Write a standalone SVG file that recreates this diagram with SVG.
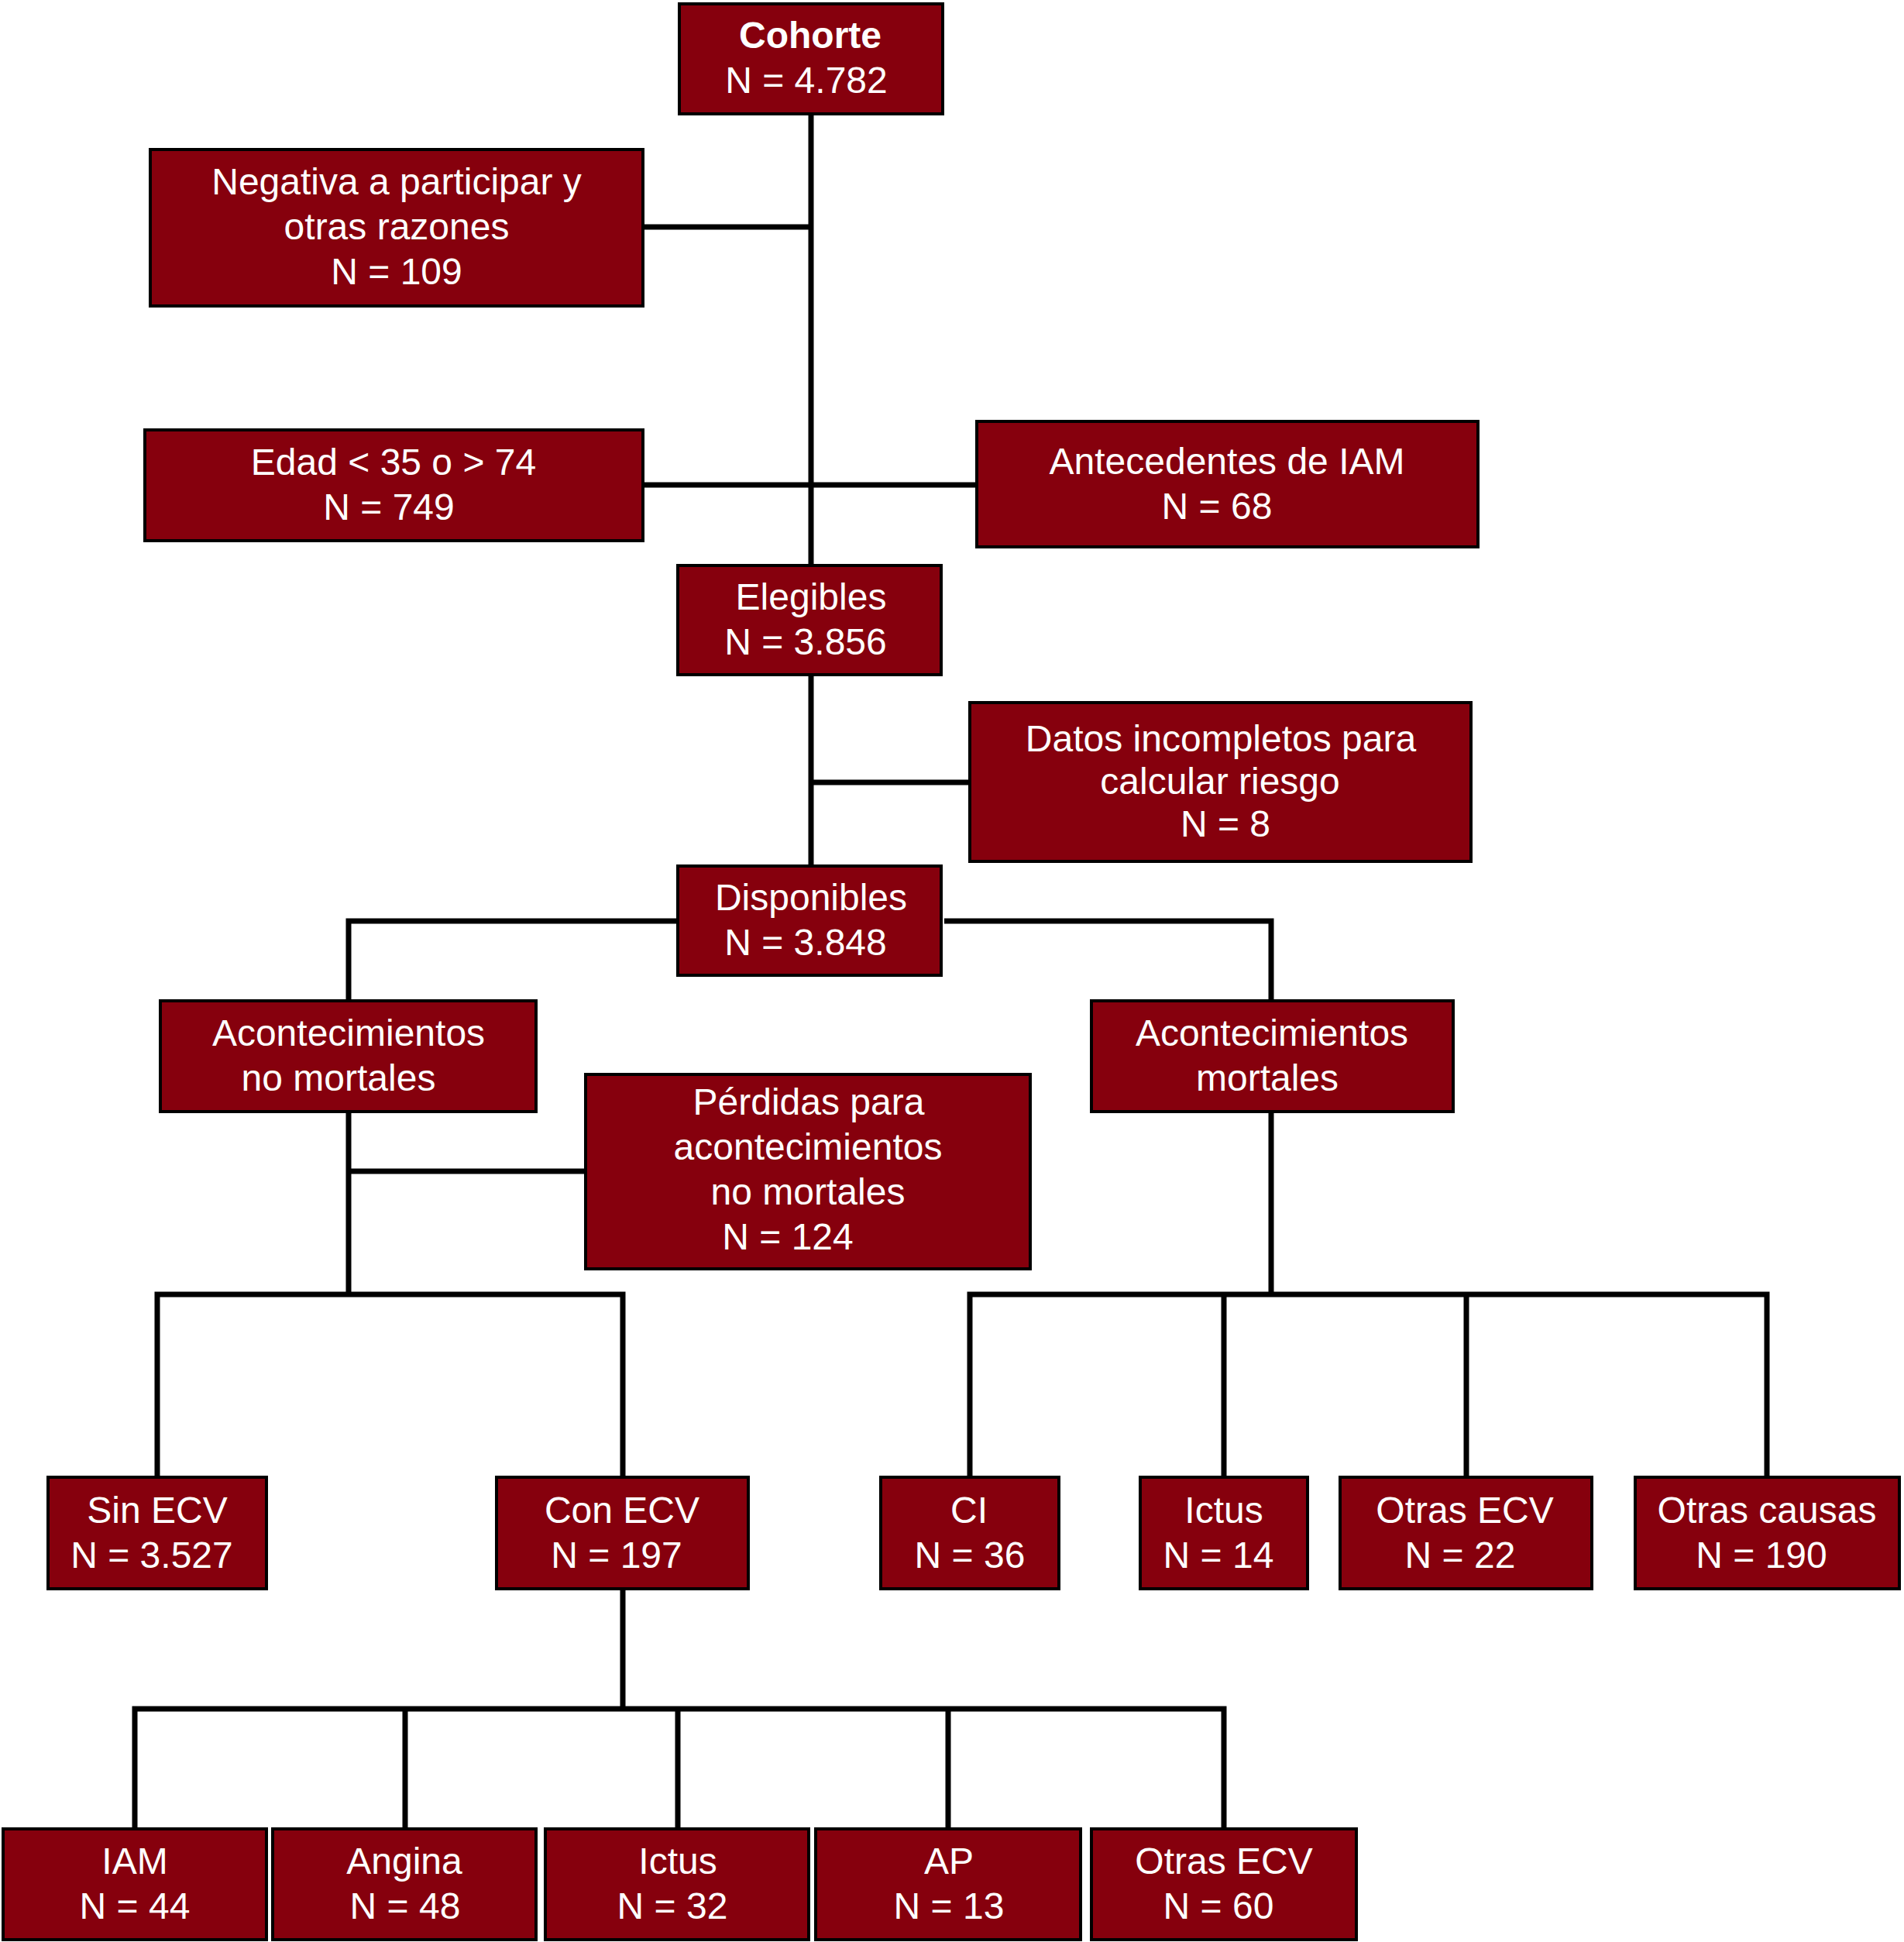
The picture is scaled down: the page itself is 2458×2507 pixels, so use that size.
<svg xmlns="http://www.w3.org/2000/svg" width="2458" height="2507" viewBox="0 0 2458 2507">
<style>
.box{fill:#86000d;stroke:#000;stroke-width:4}
.t{font-family:"Liberation Sans",Arial,Helvetica,sans-serif;font-size:48px;fill:#fff;text-anchor:middle}
.b{font-weight:bold}
.c{fill:none;stroke:#000;stroke-width:7;stroke-linejoin:miter}
</style>
<rect width="2458" height="2507" fill="#fff"/>
<g id="connectors">
<path class="c" d="M1047 149V728"/>
<path class="c" d="M832 293H1047"/>
<path class="c" d="M832 626H1259"/>
<path class="c" d="M1047 873V1116"/>
<path class="c" d="M1047 1010H1250"/>
<path class="c" d="M873 1189H450V1290"/>
<path class="c" d="M1219 1189H1641V1290"/>
<path class="c" d="M450 1437V1671"/>
<path class="c" d="M450 1512H754"/>
<path class="c" d="M203 1905V1671H804V1905"/>
<path class="c" d="M1641 1437V1671"/>
<path class="c" d="M1252 1905V1671H2281V1905"/>
<path class="c" d="M1580 1671V1905"/>
<path class="c" d="M1893 1671V1905"/>
<path class="c" d="M804 2053V2206"/>
<path class="c" d="M174 2359V2206H1580V2359"/>
<path class="c" d="M523 2206V2359"/>
<path class="c" d="M875 2206V2359"/>
<path class="c" d="M1224 2206V2359"/>
</g>
<g id="cohorte"><rect class="box" x="877" y="5" width="340" height="142"/><text class="t b" x="1046" y="62">Cohorte</text><text class="t" x="1041" y="120">N = 4.782</text></g>
<g id="negativa"><rect class="box" x="194" y="193" width="636" height="202"/><text class="t" x="512" y="251">Negativa a participar y</text><text class="t" x="512" y="309">otras razones</text><text class="t" x="512" y="367">N = 109</text></g>
<g id="edad"><rect class="box" x="187" y="555" width="643" height="143"/><text class="t" x="508" y="613">Edad &lt; 35 o &gt; 74</text><text class="t" x="502" y="671">N = 749</text></g>
<g id="antecedentes"><rect class="box" x="1261" y="544" width="647" height="162"/><text class="t" x="1584" y="612">Antecedentes de IAM</text><text class="t" x="1571" y="670">N = 68</text></g>
<g id="elegibles"><rect class="box" x="875" y="730" width="340" height="141"/><text class="t" x="1047" y="787">Elegibles</text><text class="t" x="1040" y="845">N = 3.856</text></g>
<g id="datos"><rect class="box" x="1252" y="907" width="647" height="205"/><text class="t" x="1576" y="970">Datos incompletos para</text><text class="t" x="1575" y="1025">calcular riesgo</text><text class="t" x="1582" y="1080">N = 8</text></g>
<g id="disponibles"><rect class="box" x="875" y="1118" width="340" height="141"/><text class="t" x="1047" y="1175">Disponibles</text><text class="t" x="1040" y="1233">N = 3.848</text></g>
<g id="no-mortales"><rect class="box" x="207" y="1292" width="485" height="143"/><text class="t" x="450" y="1350">Acontecimientos</text><text class="t" x="437" y="1408">no mortales</text></g>
<g id="perdidas"><rect class="box" x="756" y="1387" width="574" height="251"/><text class="t" x="1044" y="1439">Pérdidas para</text><text class="t" x="1043" y="1497">acontecimientos</text><text class="t" x="1043" y="1555">no mortales</text><text class="t" x="1017" y="1613">N = 124</text></g>
<g id="mortales"><rect class="box" x="1409" y="1292" width="467" height="143"/><text class="t" x="1642" y="1350">Acontecimientos</text><text class="t" x="1636" y="1408">mortales</text></g>
<g id="sin-ecv"><rect class="box" x="62" y="1907" width="282" height="144"/><text class="t" x="203" y="1966">Sin ECV</text><text class="t" x="196" y="2024">N = 3.527</text></g>
<g id="con-ecv"><rect class="box" x="641" y="1907" width="325" height="144"/><text class="t" x="803" y="1966">Con ECV</text><text class="t" x="796" y="2024">N = 197</text></g>
<g id="ci"><rect class="box" x="1137" y="1907" width="230" height="144"/><text class="t" x="1251" y="1966">CI</text><text class="t" x="1252" y="2024">N = 36</text></g>
<g id="ictus-mortal"><rect class="box" x="1472" y="1907" width="216" height="144"/><text class="t" x="1580" y="1966">Ictus</text><text class="t" x="1573" y="2024">N = 14</text></g>
<g id="otras-ecv-mortal"><rect class="box" x="1730" y="1907" width="325" height="144"/><text class="t" x="1891" y="1966">Otras ECV</text><text class="t" x="1885" y="2024">N = 22</text></g>
<g id="otras-causas"><rect class="box" x="2111" y="1907" width="341" height="144"/><text class="t" x="2281" y="1966">Otras causas</text><text class="t" x="2274" y="2024">N = 190</text></g>
<g id="iam"><rect class="box" x="4" y="2361" width="340" height="143"/><text class="t" x="174" y="2419">IAM</text><text class="t" x="174" y="2477">N = 44</text></g>
<g id="angina"><rect class="box" x="352" y="2361" width="340" height="143"/><text class="t" x="522" y="2419">Angina</text><text class="t" x="523" y="2477">N = 48</text></g>
<g id="ictus"><rect class="box" x="704" y="2361" width="340" height="143"/><text class="t" x="875" y="2419">Ictus</text><text class="t" x="868" y="2477">N = 32</text></g>
<g id="ap"><rect class="box" x="1053" y="2361" width="342" height="143"/><text class="t" x="1225" y="2419">AP</text><text class="t" x="1225" y="2477">N = 13</text></g>
<g id="otras-ecv"><rect class="box" x="1409" y="2361" width="342" height="143"/><text class="t" x="1580" y="2419">Otras ECV</text><text class="t" x="1573" y="2477">N = 60</text></g>
</svg>
